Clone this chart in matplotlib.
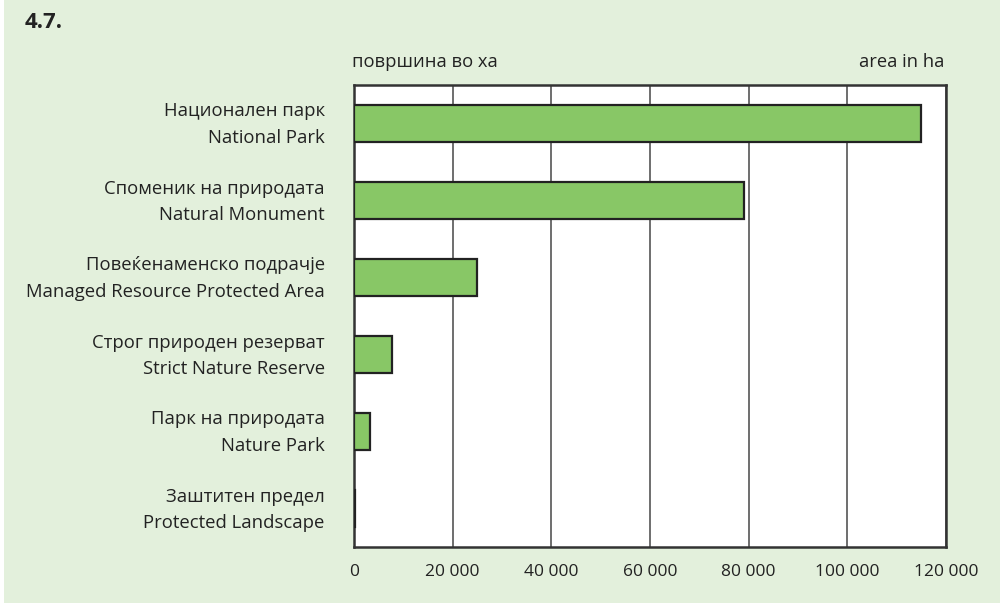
import matplotlib.pyplot as plt
from matplotlib.patches import Rectangle
from matplotlib.ticker import FuncFormatter
from matplotlib.transforms import ScaledTranslation

plt.rcParams['font.family'] = ['Open Sans', 'DejaVu Sans']

categories = ['Национален парк\nNational Park',
              'Споменик на природата\nNatural Monument',
              'Повеќенаменско подрачје\nManaged Resource Protected Area',
              'Строг природен резерват\nStrict Nature Reserve',
              'Парк на природата\nNature Park',
              'Заштитен предел\nProtected Landscape']
values = [115000, 79000, 25000, 7800, 3200, 300]
xticks = [0, 20000, 40000, 60000, 80000, 100000, 120000]

fig = plt.figure(figsize=(10.03, 6.05), dpi=100)
fig.patches.append(Rectangle((4 / 1003, 0.004), 996 / 1003, 0.996, transform=fig.transFigure,
                             facecolor='#e3f0dc', edgecolor='none', zorder=-1))

ax = fig.add_axes([354 / 1003, 1 - 547 / 605, (946 - 354) / 1003, (547 - 85) / 605])
ypos = list(range(len(categories)))
ax.barh(ypos, values, height=0.49, color='#88c766', edgecolor='#222222', linewidth=1.6, zorder=3)
ax.set_ylim(len(categories) - 0.5, -0.5)
ax.set_xlim(0, 120000)
ax.set_xticks(xticks)
ax.xaxis.set_major_formatter(FuncFormatter(lambda v, p: f'{int(v):,}'.replace(',', ' ')))
ax.set_yticks(ypos)
ax.set_yticklabels(categories, fontsize=13.3, linespacing=1.6)
ax.tick_params(axis='both', length=0, colors='#222222')
ax.tick_params(axis='y', pad=21)
ax.tick_params(axis='x', pad=12, labelsize=12.5)
ax.grid(axis='x', color='#555555', linewidth=1.2, zorder=1)
for s in ax.spines.values():
    s.set_color('#333333')
    s.set_linewidth(1.8)

# nudge the two-line labels up a bit so they sit centred on the bars
shift = ScaledTranslation(0, 0.05, fig.dpi_scale_trans)
for lab in ax.get_yticklabels():
    lab.set_transform(lab.get_transform() + shift)

fig.text(352 / 1003, 1 - 62 / 605, 'површина во ха', fontsize=13.2, color='#222222', va='center', ha='left')
fig.text(944 / 1003, 1 - 62 / 605, 'area in ha', fontsize=13.2, color='#222222', va='center', ha='right')
fig.text(25 / 1003, 1 - 22 / 605, '4.7.', fontsize=16, fontweight='bold', color='#222222', va='center', ha='left')

fig.savefig('out.png', dpi=100)
